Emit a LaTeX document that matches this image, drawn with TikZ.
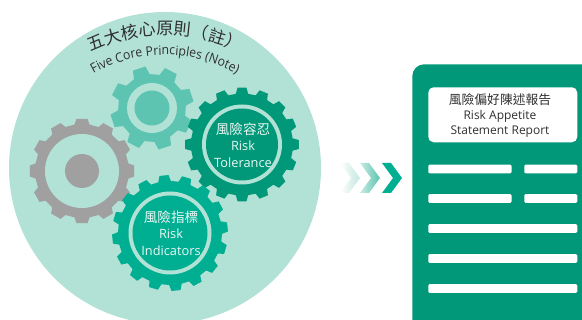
\documentclass[tikz,border=0pt]{standalone}
\usepackage{fontspec}
\setmainfont{Open Sans}
\newfontfamily\cjk{Noto Sans CJK TC}
\newfontfamily\arcfont[FakeStretch=0.94]{Open Sans}
\usetikzlibrary{positioning,calc,decorations.text}

\definecolor{paleMint}{HTML}{B2E2D6}
\definecolor{midTeal}{HTML}{5CC4B0}
\definecolor{deepGreen}{HTML}{009878}
\definecolor{brightTeal}{HTML}{00AE91}
\definecolor{gearGrey}{HTML}{A0A0A0}
\definecolor{inkGrey}{HTML}{303030}
\definecolor{softWhite}{HTML}{EAF8F4}

% gear outline: centre, tip radius, root radius, teeth, phase
\newcommand{\gearpath}[5]{%
    ($(#1)+({#5-0.31*360/#4}:#3)$)
    \foreach \i [evaluate=\i as \a using {#5+\i*360/#4}] in {0,...,\numexpr#4-1\relax} {
        -- ($(#1)+({\a-0.31*360/#4}:#3)$) -- ($(#1)+({\a-0.2*360/#4}:#2)$)
        -- ($(#1)+({\a+0.2*360/#4}:#2)$) -- ($(#1)+({\a+0.31*360/#4}:#3)$)
    } -- cycle}

\tikzset{
    gearlabel/.style={text=softWhite, font=\fontsize{9.6}{11}\selectfont, inner sep=0pt, align=center},
    gearcjk/.style={gearlabel, font=\cjk\fontsize{10.2}{11}\selectfont},
    headlabel/.style={text=inkGrey, font=\fontsize{9}{11}\selectfont, inner sep=0pt, align=center},
    headcjk/.style={headlabel, font=\cjk\fontsize{9.6}{11}\selectfont},
    reportbar/.style={fill=white, rounded corners=1pt, inner sep=0pt, minimum height=6.6pt, anchor=west},
}

\begin{document}
\begin{tikzpicture}[x=0.75pt, y=0.75pt, node distance=12.5pt, auto]
    \useasboundingbox (0,0) rectangle (582,-320);

    \fill[paleMint] (165,-168) circle (156);

    % gears
    \fill[gearGrey] \gearpath{82,-171}{52.5}{47}{12}{90};
    \fill[paleMint] (82,-171) circle (37);
    \fill[gearGrey] (82,-171) circle (17);

    \fill[midTeal] \gearpath{152,-108}{42}{34}{8}{18};
    \fill[paleMint] (152,-108) circle (25);
    \fill[midTeal] (152,-108) circle (17.5);

    \fill[deepGreen] \gearpath{242,-144.5}{57}{51}{16}{90};
    \fill[paleMint] (242,-144.5) circle (40);
    \fill[deepGreen] (242,-144.5) circle (36);

    \fill[brightTeal] \gearpath{170,-233}{58}{52}{16}{96};
    \fill[paleMint] (170,-233) circle (41.5);
    \fill[brightTeal] (170,-233) circle (37.5);

    % curved titles
    \path[decorate, decoration={text along path, text align=center,
        text={|\cjk\fontsize{12.8}{14}\selectfont\color{inkGrey}|五大核心原則（註）}}]
        (165,-205) ++(153:170) arc (153:27:170);
    \path[decorate, decoration={text along path, text align=center,
        text={|\arcfont\fontsize{9.8}{10}\selectfont\color{inkGrey}|Five Core Principles (Note)}}]
        (165,-200) ++(150:145) arc (150:30:145);

    \node (tolName) [gearcjk] at (243,-129) {風險容忍};
    \node (tolRisk) [gearlabel, below of=tolName] {Risk};
    \node (tolWord) [gearlabel, below of=tolRisk] {Tolerance};

    \node (indName) [gearcjk] at (171,-217) {風險指標};
    \node (indRisk) [gearlabel, below of=indName] {Risk};
    \node (indWord) [gearlabel, below of=indRisk] {Indicators};

    % chevrons
    \foreach \x/\from/\to in {340/white/paleMint!80, 360/paleMint!70/midTeal, 382/brightTeal/brightTeal} {
        \shade[left color=\from, right color=\to]
            (\x,-163) -- (\x+9,-163) -- (\x+20,-178) -- (\x+9,-193) -- (\x,-193) -- (\x+11,-178) -- cycle;
    }

    % report
    \node (report) [fill=deepGreen, rounded corners=9pt, minimum width=150pt, minimum height=230pt, inner sep=0pt, anchor=north west] at (412,-64) {};
    \node (header) [fill=white, rounded corners=4pt, minimum width=111.75pt, minimum height=41.25pt, inner sep=0pt, anchor=north west] at (428,-87) {};
    \node (headName) [headcjk] at (500,-100) {風險偏好陳述報告};
    \node (headRisk) [headlabel, below of=headName, node distance=12pt] {Risk Appetite};
    \node (headWord) [headlabel, below of=headRisk, node distance=11.5pt] {Statement Report};

    \foreach \y/\n in {169/a, 198.5/b} {
        \node (bar\n l) [reportbar, minimum width=62.5pt] at (428,-\y) {};
        \node (bar\n r) [reportbar, minimum width=39.75pt] at (524,-\y) {};
    }
    \foreach \y/\n in {228.5/c, 258.5/d, 288.5/e} {
        \node (bar\n) [reportbar, minimum width=111.75pt] at (428,-\y) {};
    }
\end{tikzpicture}
\end{document}
